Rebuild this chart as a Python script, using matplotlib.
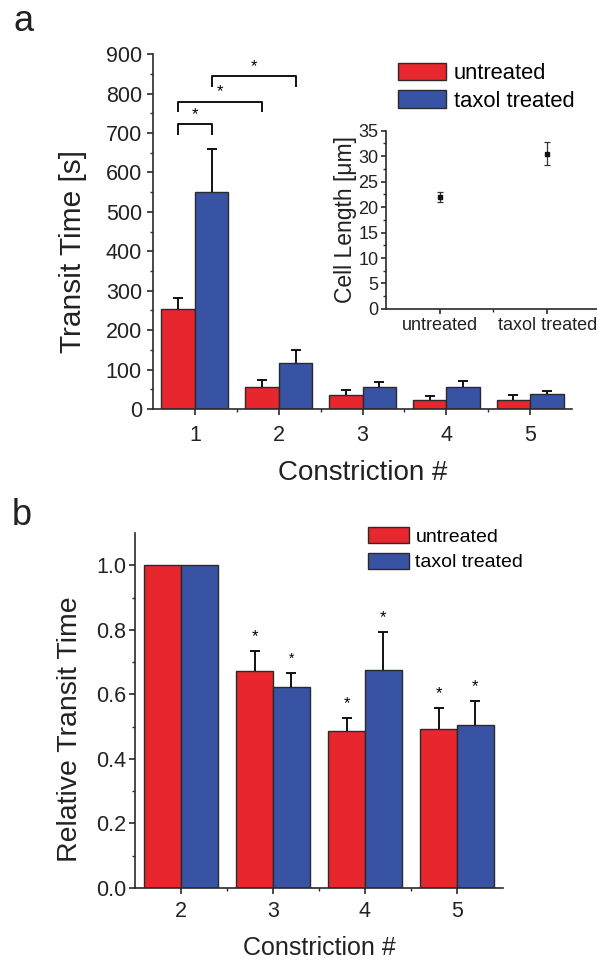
import matplotlib
matplotlib.use("Agg")
import matplotlib.pyplot as plt
import numpy as np

plt.rcParams['font.family'] = ['Liberation Sans', 'DejaVu Sans']

# panel a: transit time per constriction
constr_a = [1, 2, 3, 4, 5]
untreated_a = [253, 57, 36, 23, 23]
untreated_a_err = [29, 17, 13, 9, 12]
taxol_a = [550, 116, 57, 57, 39]
taxol_a_err = [110, 33, 12, 13, 8]

# significance brackets in panel a: (x left, x right, bracket top)
brackets_x1 = [0.8, 0.8, 1.2]
brackets_x2 = [1.2, 1.8, 2.2]
brackets_top = [722, 779, 844]

# inset: cell length
inset_labels = ["untreated", "taxol treated"]
cell_length = [22.0, 30.5]
cell_length_err = [0.9, 2.2]

# panel b: relative transit time
constr_b = [2, 3, 4, 5]
untreated_b = [1.0, 0.671, 0.487, 0.492]
untreated_b_err = [np.nan, 0.062, 0.039, 0.065]
taxol_b = [1.0, 0.622, 0.674, 0.504]
taxol_b_err = [np.nan, 0.045, 0.120, 0.076]

red = "#e8262e"
blue = "#3953a4"
edge = "#2a2a2a"
txt = "#222222"
w = 0.4

fig = plt.figure(figsize=(5.97, 9.67), dpi=100)


def style_axes(ax, fs=15.5):
    for s in ["top", "right"]:
        ax.spines[s].set_visible(False)
    for s in ["left", "bottom"]:
        ax.spines[s].set_color(edge)
        ax.spines[s].set_linewidth(1.2)
    ax.tick_params(which="major", direction="out", length=4.5, width=1.2,
                   color=edge, labelsize=fs, labelcolor=txt)
    ax.tick_params(which="minor", direction="out", length=2.5, width=1.0,
                   color=edge)


def up_errbar(ax, xs, ys, errs):
    # only the upper half of the error bar, with a single cap
    eb = ax.errorbar(xs, ys, yerr=[np.zeros(len(errs)), errs], fmt="none",
                     ecolor="#111111", elinewidth=1.4, capsize=3.5, capthick=1.4)
    eb[1][0].set_visible(False)


# ---- panel a
ax1 = fig.add_axes([0.2563, 0.577, 0.702, 0.367])
x = np.array(constr_a)
ax1.bar(x - w / 2, untreated_a, w, color=red, edgecolor=edge, linewidth=1.0,
        label="untreated")
ax1.bar(x + w / 2, taxol_a, w, color=blue, edgecolor=edge, linewidth=1.0,
        label="taxol treated")
up_errbar(ax1, x - w / 2, untreated_a, untreated_a_err)
up_errbar(ax1, x + w / 2, taxol_a, taxol_a_err)
for x1, x2, top in zip(brackets_x1, brackets_x2, brackets_top):
    ax1.plot([x1, x1, x2, x2], [top - 24, top, top, top - 24], color="#111111", lw=1.4)
    ax1.text((x1 + x2) / 2, top + 6, "*", ha="center", va="bottom", fontsize=12)
ax1.set_xlim(0.5, 5.5)
ax1.set_ylim(0, 900)
ax1.set_xticks(constr_a)
ax1.set_xticks([1.5, 2.5, 3.5, 4.5], minor=True)
ax1.set_yticks(np.arange(0, 901, 100))
ax1.set_yticks(np.arange(50, 900, 100), minor=True)
style_axes(ax1)
ax1.tick_params(axis="x", which="major", pad=7)
ax1.set_xlabel("Constriction #", fontsize=20, color=txt, labelpad=10)
ax1.set_ylabel("Transit Time [s]", fontsize=21.5, color=txt)
ax1.yaxis.set_label_coords(-0.158, 0.445)
ax1.legend(loc="upper left", bbox_to_anchor=(0.6667, 0.935),
           bbox_transform=fig.transFigure, frameon=False, fontsize=15.8,
           handlelength=2.2, handleheight=0.85, handletextpad=0.35,
           labelspacing=0.28, borderpad=0, borderaxespad=0)

# ---- inset
ax_in = fig.add_axes([0.6466, 0.6805, 0.36, 0.1843])
ax_in.errorbar([1, 2], cell_length, yerr=cell_length_err, fmt="s", ms=3.5,
               color="#111111", ecolor="#333333", elinewidth=0.9, capsize=2.5,
               capthick=0.9)
ax_in.set_xlim(0.5, 2.5)
ax_in.set_ylim(0, 35)
ax_in.set_xticks([1, 2])
ax_in.set_xticklabels(inset_labels)
ax_in.set_xticks([1.5], minor=True)
ax_in.set_yticks(np.arange(0, 36, 5))
ax_in.set_yticks(np.arange(2.5, 35, 5), minor=True)
style_axes(ax_in, fs=13)
ax_in.tick_params(which="major", length=3.5, pad=2)
ax_in.tick_params(which="minor", length=2)
ax_in.set_ylabel("Cell Length [\u03bcm]", fontsize=16.5, color=txt, labelpad=1)

# ---- panel b
ax2 = fig.add_axes([0.2261, 0.0817, 0.6164, 0.3671])
xb = np.array(constr_b)
ax2.bar(xb - w / 2, untreated_b, w, color=red, edgecolor=edge, linewidth=1.0,
        label="untreated")
ax2.bar(xb + w / 2, taxol_b, w, color=blue, edgecolor=edge, linewidth=1.0,
        label="taxol treated")
ub_err = np.array(untreated_b_err)
tb_err = np.array(taxol_b_err)
m = ~np.isnan(ub_err)
up_errbar(ax2, xb[m] - w / 2, np.array(untreated_b)[m], ub_err[m])
up_errbar(ax2, xb[m] + w / 2, np.array(taxol_b)[m], tb_err[m])
for i in np.where(m)[0]:
    ax2.text(xb[i] - w / 2, untreated_b[i] + ub_err[i] + 0.022, "*",
             ha="center", va="bottom", fontsize=12)
    ax2.text(xb[i] + w / 2, taxol_b[i] + tb_err[i] + 0.022, "*",
             ha="center", va="bottom", fontsize=12 if i != 1 else 10)
ax2.set_xlim(1.5, 5.5)
ax2.set_ylim(0, 1.1)
ax2.set_xticks(constr_b)
ax2.set_xticks([2.5, 3.5, 4.5], minor=True)
ax2.set_yticks(np.arange(0, 1.01, 0.2))
ax2.set_yticks(np.arange(0.1, 1.1, 0.2), minor=True)
ax2.set_yticklabels(["%.1f" % v for v in np.arange(0, 1.01, 0.2)])
style_axes(ax2)
ax2.tick_params(axis="x", which="major", pad=5)
ax2.tick_params(axis="y", which="major", pad=2)
ax2.set_xlabel("Constriction #", fontsize=18, color=txt, labelpad=10)
ax2.set_ylabel("Relative Transit Time", fontsize=20.5, color=txt)
ax2.yaxis.set_label_coords(-0.141, 0.448)
ax2.legend(loc="upper left", bbox_to_anchor=(0.616, 0.455),
           bbox_transform=fig.transFigure, frameon=False, fontsize=14,
           handlelength=2.1, handleheight=0.9, handletextpad=0.35,
           labelspacing=0.35, borderpad=0, borderaxespad=0)

fig.text(0.022, 0.968, "a", fontsize=26, color=txt)
fig.text(0.020, 0.457, "b", fontsize=26, color=txt)

fig.savefig("out.png", dpi=100)
